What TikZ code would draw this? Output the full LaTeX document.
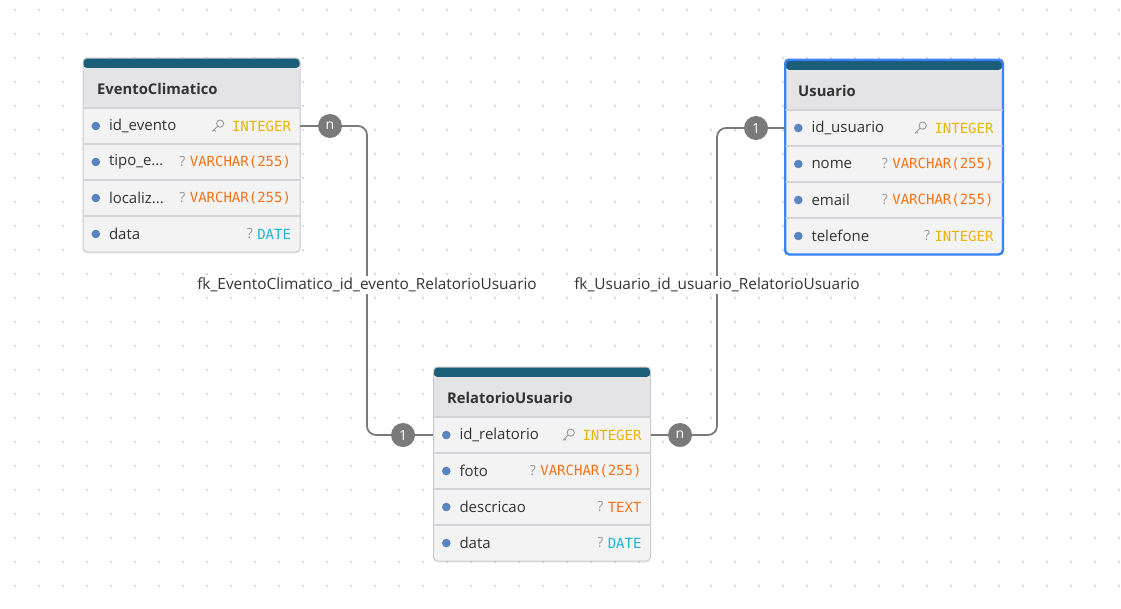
\documentclass[tikz,border=0pt]{standalone}
\usepackage{fontspec}
\setmainfont{Open Sans}
\newfontfamily\monofont{DejaVu Sans Mono}
\usepackage{tikz}
\usetikzlibrary{positioning}
\usetikzlibrary{shadows}

\definecolor{headteal}{HTML}{1B5E78}
\definecolor{titlegray}{HTML}{E4E4E7}
\definecolor{rowgray}{HTML}{F3F3F4}
\definecolor{sepgray}{HTML}{D4D4D8}
\definecolor{boxgray}{HTML}{C9C9CE}
\definecolor{selblue}{HTML}{3B82F6}
\definecolor{bulletblue}{HTML}{5A83C0}
\definecolor{inkgray}{HTML}{333333}
\definecolor{markgray}{HTML}{9A9A9A}
\definecolor{linkgray}{HTML}{7A7A7A}
\definecolor{griddot}{HTML}{B4C6D8}
\definecolor{typeyellow}{HTML}{EAB308}
\definecolor{typeorange}{HTML}{F97316}
\definecolor{typecyan}{HTML}{1FB5D6}

\tikzset{
  tblbox/.style={draw=boxgray, line width=1pt, fill=rowgray, rounded corners=4pt,
    minimum width=217pt, minimum height=194pt, inner sep=0pt,
    drop shadow={opacity=0.12, shadow xshift=0pt, shadow yshift=-1.5pt},
    path picture={
      \fill[headteal] (path picture bounding box.north west) rectangle ([yshift=-10pt]path picture bounding box.north east);
      \fill[titlegray] ([yshift=-10pt]path picture bounding box.north west) rectangle ([yshift=-50pt]path picture bounding box.north east);
    }},
  tbltitle/.style={font=\bfseries\fontsize{14.8}{17}\selectfont, text=inkgray, inner sep=0pt},
  rowbox/.style={minimum width=217pt, minimum height=36pt, inner sep=0pt},
  sepline/.style={draw=sepgray, line width=1.6pt},
  fieldtxt/.style={font=\fontsize{15}{17}\selectfont, text=inkgray, inner sep=0pt},
  typetxt/.style={font=\monofont\fontsize{14}{16}\selectfont, inner sep=0pt},
  qtxt/.style={font=\fontsize{14}{16}\selectfont, text=markgray, inner sep=0pt},
  card/.style={circle, fill=linkgray, minimum size=24pt, inner sep=0pt, text=white,
    font=\fontsize{14}{16}\selectfont},
  link/.style={draw=linkgray, line width=1.8pt, rounded corners=9pt},
  fklabel/.style={fill=white, inner sep=2pt, text=inkgray, font=\fontsize{15.4}{17}\selectfont},
  keyicon/.pic={
    \draw[markgray, line width=0.9pt] (2.4pt,2.4pt) circle (3.6pt);
    \draw[markgray, line width=0.9pt] (-0.2pt,-0.2pt) -- (-5.5pt,-5.5pt) (-3.8pt,-3.8pt) -- (-2.2pt,-5.4pt);
  }
}

% one attribute row of a table
\newcommand{\fieldrow}[6]{%
  \node[rowbox] (#1) at (#2,#3) {};
  \draw[sepline] (#1.north west) -- (#1.north east);
  \fill[bulletblue] ([xshift=13pt]#1.west) circle (4.3pt);
  \node[fieldtxt, anchor=west] (#1f) at ([xshift=26pt]#1.west) {#4};
  \node[typetxt, anchor=east, text=#6] (#1t) at ([xshift=-9pt]#1.east) {#5};
}
\newcommand{\qmark}[1]{\node[qtxt, anchor=east] (#1q) at ([xshift=-4pt]#1t.west) {?};}
\newcommand{\keymark}[1]{\pic at ([xshift=-14pt]#1t.west) {keyicon};}

\begin{document}
\begin{tikzpicture}[x=1pt, y=-1pt]
\fill[white] (0,0) rectangle (1121,608);
\useasboundingbox (0,0) rectangle (1121,608);
\foreach \i in {0,...,46}
  \foreach \j in {0,...,24}
    \fill[griddot] (15+24*\i,10+24*\j) circle (1pt);

% EventoClimatico
\node[tblbox] (ev) at (191.5,155) {};
\node[tbltitle, anchor=west] (evT) at (97,89) {EventoClimatico};
\fieldrow{ev1}{191.5}{126}{id\_evento}{INTEGER}{typeyellow}
\keymark{ev1}
\fieldrow{ev2}{191.5}{162}{tipo\_e...}{VARCHAR(255)}{typeorange}
\qmark{ev2}
\fieldrow{ev3}{191.5}{198}{localiz...}{VARCHAR(255)}{typeorange}
\qmark{ev3}
\fieldrow{ev4}{191.5}{234}{data}{DATE}{typecyan}
\qmark{ev4}

% Usuario
\node[tblbox, draw=selblue, line width=1.5pt] (usr) at (894,157) {};
\node[tbltitle, anchor=west] (usrT) at (798,91) {Usuario};
\fieldrow{usr1}{894}{128}{id\_usuario}{INTEGER}{typeyellow}
\keymark{usr1}
\fieldrow{usr2}{894}{164}{nome}{VARCHAR(255)}{typeorange}
\qmark{usr2}
\fieldrow{usr3}{894}{200}{email}{VARCHAR(255)}{typeorange}
\qmark{usr3}
\fieldrow{usr4}{894}{236}{telefone}{INTEGER}{typeyellow}
\qmark{usr4}
\draw[selblue, line width=1.5pt, rounded corners=4pt] (usr.north west) rectangle (usr.south east);

% RelatorioUsuario
\node[tblbox] (rel) at (542,464) {};
\node[tbltitle, anchor=west] (relT) at (447,398) {RelatorioUsuario};
\fieldrow{rel1}{542}{435}{id\_relatorio}{INTEGER}{typeyellow}
\keymark{rel1}
\fieldrow{rel2}{542}{471}{foto}{VARCHAR(255)}{typeorange}
\qmark{rel2}
\fieldrow{rel3}{542}{507}{descricao}{TEXT}{typeorange}
\qmark{rel3}
\fieldrow{rel4}{542}{543}{data}{DATE}{typecyan}
\qmark{rel4}

% relations
\node[card] (evN) at (330,126) {n};
\node[card] (relOne) at (403,435) {1};
\node[card] (usrOne) at (756,128) {1};
\node[card] (relN) at (680,435) {n};
\coordinate (evBend) at (367,285);
\coordinate (usrBend) at (717,285);

\draw[link] (ev1.east) -- (evN.west);
\draw[link] (evN) -| (evBend) |- (relOne);
\draw[link] (relOne.east) -- (rel1.west);
\draw[link] (usr1.west) -- (usrOne.east);
\draw[link] (usrOne) -| (usrBend) |- (relN);
\draw[link] (relN.west) -- (rel1.east);

\node[fklabel] (fkEv) at (evBend) {fk\_EventoClimatico\_id\_evento\_RelatorioUsuario};
\node[fklabel] (fkUsr) at (usrBend) {fk\_Usuario\_id\_usuario\_RelatorioUsuario};
\end{tikzpicture}
\end{document}
